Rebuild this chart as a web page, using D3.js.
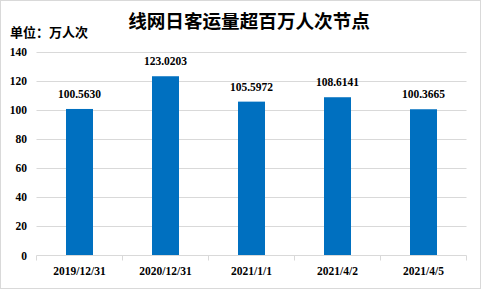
<!DOCTYPE html>
<html><head><meta charset="utf-8">
<script src="https://cdn.jsdelivr.net/npm/d3@7"></script>
<style>body{margin:0;background:#fff}svg{display:block}</style>
</head><body><svg id="c" width="481" height="289"></svg>
<script>
const categories = ["2019/12/31","2020/12/31","2021/1/1","2021/4/2","2021/4/5"];
const values = [100.5630,123.0203,105.5972,108.6141,100.3665];
const valueLabels = ["100.5630","123.0203","105.5972","108.6141","100.3665"];
const yTicks = [0,20,40,60,80,100,120,140];
const title = "线网日客运量超百万人次节点";
const unit = "单位：万人次";

(function(){
const svg = d3.select("#c");
const W=481,H=289;
svg.append("rect").attr("x",0.5).attr("y",0.5).attr("width",W-1).attr("height",H-1).attr("fill","#fff").attr("stroke","#d9d9d9");

const pLeft=36.5,pRight=466.5,pTop=51.5,pBottom=255.5;
const x=d3.scaleBand().domain(categories).range([pLeft,pRight]);
const y=d3.scaleLinear().domain([0,140]).range([pBottom,pTop]);

const num="'Liberation Serif','Times New Roman',serif";
svg.append("g").selectAll("line").data(yTicks.filter(d=>d>0)).join("line")
 .attr("x1",pLeft).attr("x2",pRight).attr("y1",d=>Math.round(y(d))+0.5).attr("y2",d=>Math.round(y(d))+0.5)
 .attr("stroke","#d9d9d9");
svg.append("g").selectAll("text").data(yTicks).join("text")
 .attr("x",27).attr("y",d=>y(d)+4).attr("text-anchor","end")
 .attr("font-family",num).attr("font-weight","bold").attr("font-size",11.5).text(d=>d);
const bw=27;
svg.append("g").selectAll("rect").data(values).join("rect")
 .attr("x",(d,i)=>x(categories[i])+x.bandwidth()/2-bw/2).attr("width",bw)
 .attr("y",d=>y(d)).attr("height",d=>pBottom-y(d)).attr("fill","#0070C0");
svg.append("g").selectAll("text").data(values).join("text")
 .attr("x",(d,i)=>x(categories[i])+x.bandwidth()/2).attr("y",d=>y(d)-11)
 .attr("text-anchor","middle").attr("font-family",num).attr("font-weight","bold").attr("font-size",11.5)
 .text((d,i)=>valueLabels[i]);
const xa=svg.append("g").attr("transform",`translate(0,${pBottom})`)
 .call(d3.axisBottom(x).tickSize(0).tickPadding(11));
xa.select(".domain").attr("stroke","#d9d9d9").attr("d",`M${pLeft},0H${pRight}`);
xa.selectAll("text").attr("font-family",num).attr("font-weight","bold").attr("font-size",11.5).attr("fill","#000");
svg.append("g").selectAll("line").data(d3.range(categories.length+1)).join("line")
 .attr("x1",i=>pLeft+i*x.step()).attr("x2",i=>pLeft+i*x.step()).attr("y1",pBottom).attr("y2",pBottom+5).attr("stroke","#d9d9d9");

svg.append("text").attr("x",249).attr("y",28).attr("text-anchor","middle")
 .attr("font-family","'Noto Sans CJK SC'").attr("font-weight","bold").attr("font-size",18.6).text(title);
svg.append("text").attr("x",10).attr("y",37)
 .attr("font-family","'Noto Sans CJK SC'").attr("font-weight","bold").attr("font-size",13).text(unit);
})();
</script></body></html>
